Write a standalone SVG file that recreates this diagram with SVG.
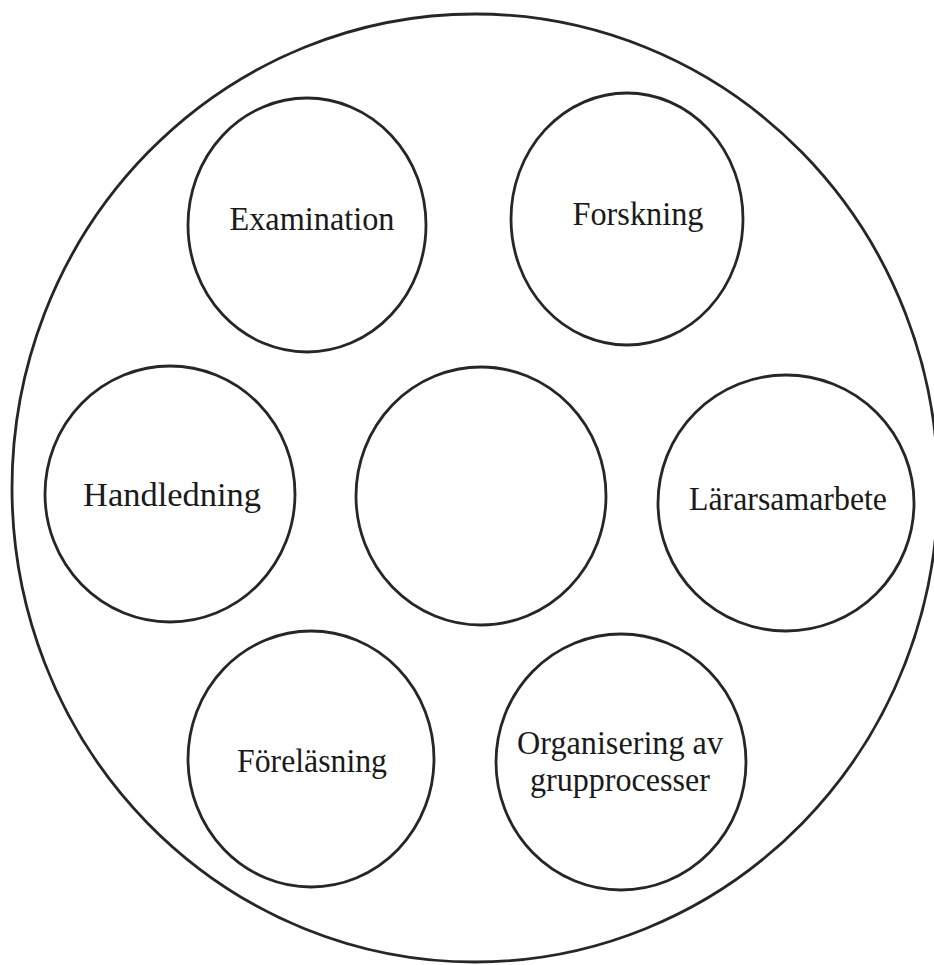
<svg xmlns="http://www.w3.org/2000/svg" width="934" height="965" viewBox="0 0 934 965">
<style>
.c{fill:none;stroke:#262626;stroke-width:2.8}
.t{font-family:"Liberation Serif","Times New Roman",serif;font-size:34px;fill:#1a1a1a;text-anchor:middle}
</style>
<rect width="934" height="965" fill="#fff"/>
<g id="outer"><ellipse class="c" cx="475" cy="488" rx="463" ry="474"/></g>
<g id="examination"><ellipse class="c" cx="307" cy="225" rx="119" ry="127"/><text class="t" x="312" y="230" textLength="165" lengthAdjust="spacingAndGlyphs">Examination</text></g>
<g id="forskning"><ellipse class="c" cx="627" cy="219" rx="116" ry="126"/><text class="t" x="638" y="225" textLength="131" lengthAdjust="spacingAndGlyphs">Forskning</text></g>
<g id="handledning"><ellipse class="c" cx="170" cy="494" rx="125" ry="128"/><text class="t" x="172" y="506" textLength="178" lengthAdjust="spacingAndGlyphs">Handledning</text></g>
<g id="center"><ellipse class="c" cx="481" cy="496" rx="125" ry="129"/></g>
<g id="lararsamarbete"><ellipse class="c" cx="786" cy="503" rx="128" ry="128"/><text class="t" x="788" y="510" textLength="198" lengthAdjust="spacingAndGlyphs">Lärarsamarbete</text></g>
<g id="forelasning"><ellipse class="c" cx="311" cy="759" rx="123" ry="128"/><text class="t" x="312" y="772" textLength="150" lengthAdjust="spacingAndGlyphs">Föreläsning</text></g>
<g id="organisering"><ellipse class="c" cx="621" cy="762" rx="125" ry="128"/><text class="t" x="620" y="754" textLength="206" lengthAdjust="spacingAndGlyphs">Organisering av</text><text class="t" x="620" y="791" textLength="180" lengthAdjust="spacingAndGlyphs">grupprocesser</text></g>
<g id="connectors"></g>
</svg>
